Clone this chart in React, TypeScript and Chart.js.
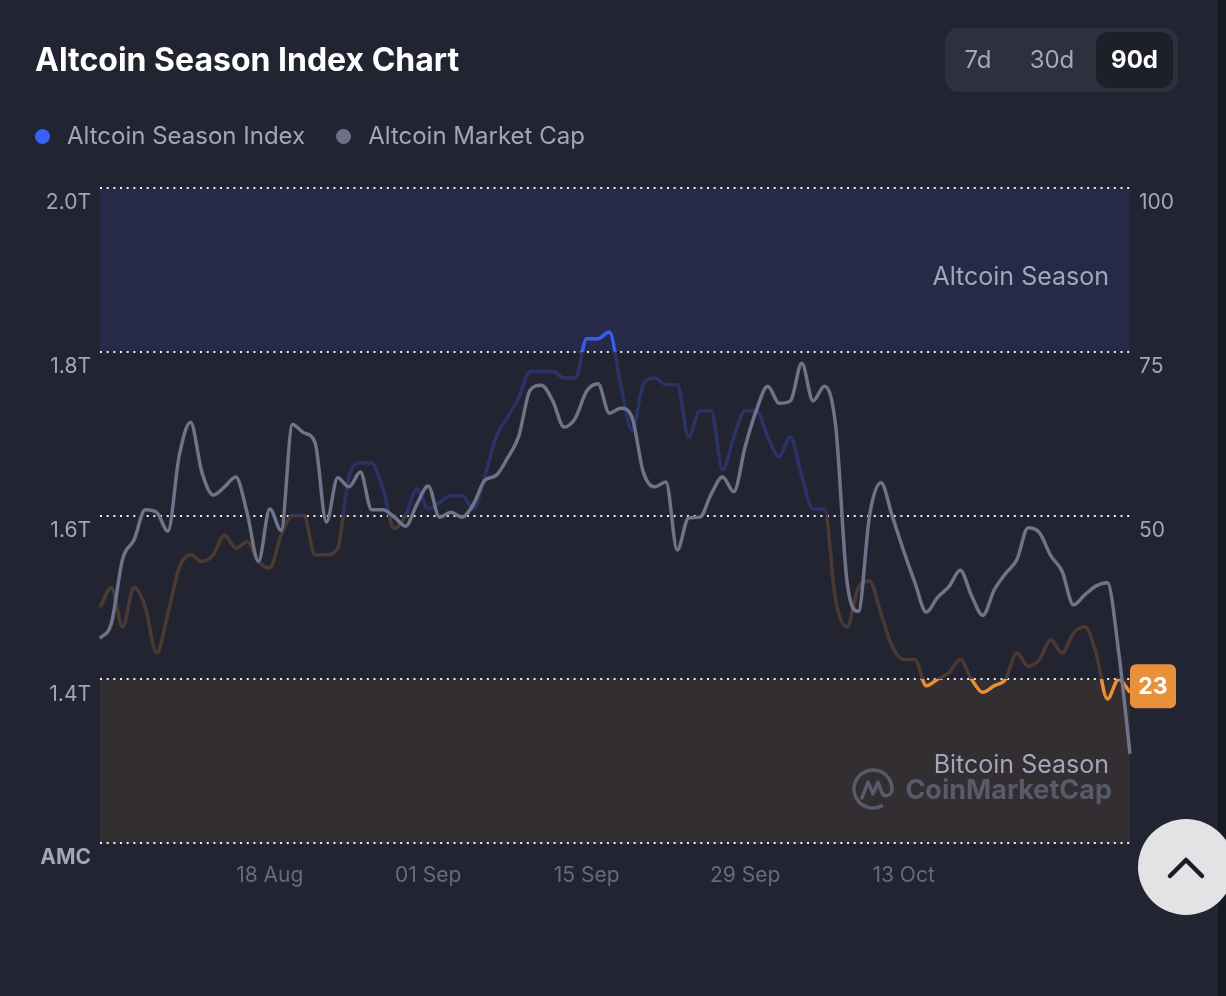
import React, { useEffect, useRef } from "react";
import { Chart, registerables } from "chart.js";

Chart.register(...registerables);

// ---------- data ----------
const categories = [
  "03 Aug","04 Aug","05 Aug","06 Aug","07 Aug","08 Aug","09 Aug","10 Aug","11 Aug","12 Aug",
  "13 Aug","14 Aug","15 Aug","16 Aug","17 Aug","18 Aug","19 Aug","20 Aug","21 Aug","22 Aug",
  "23 Aug","24 Aug","25 Aug","26 Aug","27 Aug","28 Aug","29 Aug","30 Aug","31 Aug","01 Sep",
  "02 Sep","03 Sep","04 Sep","05 Sep","06 Sep","07 Sep","08 Sep","09 Sep","10 Sep","11 Sep",
  "12 Sep","13 Sep","14 Sep","15 Sep","16 Sep","17 Sep","18 Sep","19 Sep","20 Sep","21 Sep",
  "22 Sep","23 Sep","24 Sep","25 Sep","26 Sep","27 Sep","28 Sep","29 Sep","30 Sep","01 Oct",
  "02 Oct","03 Oct","04 Oct","05 Oct","06 Oct","07 Oct","08 Oct","09 Oct","10 Oct","11 Oct",
  "12 Oct","13 Oct","14 Oct","15 Oct","16 Oct","17 Oct","18 Oct","19 Oct","20 Oct","21 Oct",
  "22 Oct","23 Oct","24 Oct","25 Oct","26 Oct","27 Oct","28 Oct","29 Oct","30 Oct","31 Oct",
  "01 Nov","02 Nov",
];

const xTickLabels = ["18 Aug", "01 Sep", "15 Sep", "29 Sep", "13 Oct"];

// Altcoin Season Index (0-100, right axis)
const altcoinSeasonIndex = [
  36, 39, 33, 39, 36, 29, 35, 42, 44, 43,
  44, 47, 45, 46, 43, 42, 47, 50, 50, 44,
  44, 45, 56, 58, 58, 54, 48, 50, 54, 51,
  52, 53, 53, 51, 56, 62, 65, 68, 72, 72,
  72, 71, 71, 77, 77, 78, 70, 63, 70, 71,
  70, 70, 62, 66, 66, 57, 62, 66, 66, 62,
  59, 62, 56, 51, 51, 37, 33, 39, 40, 35,
  30, 28, 28, 24, 25, 26, 28, 25, 23, 24,
  25, 29, 27, 28, 31, 29, 32, 33, 29, 22,
  25, 23,
];

// Altcoin Market Cap in trillions (left axis)
const altcoinMarketCap = [
  1.450, 1.468, 1.547, 1.570, 1.607, 1.604, 1.581, 1.673, 1.714, 1.653,
  1.625, 1.635, 1.647, 1.603, 1.544, 1.608, 1.582, 1.711, 1.701, 1.689,
  1.592, 1.646, 1.635, 1.653, 1.607, 1.607, 1.598, 1.587, 1.614, 1.636,
  1.598, 1.604, 1.598, 1.614, 1.643, 1.649, 1.670, 1.697, 1.753, 1.759,
  1.740, 1.708, 1.719, 1.752, 1.761, 1.725, 1.731, 1.720, 1.653, 1.635,
  1.641, 1.558, 1.597, 1.598, 1.626, 1.647, 1.629, 1.684, 1.729, 1.758,
  1.737, 1.740, 1.786, 1.740, 1.758, 1.709, 1.519, 1.483, 1.601, 1.640,
  1.599, 1.557, 1.518, 1.482, 1.500, 1.513, 1.533, 1.502, 1.478, 1.509,
  1.529, 1.546, 1.585, 1.579, 1.551, 1.532, 1.491, 1.503, 1.514, 1.518,
  1.433, 1.309,
];

const amcTickLabels = ["AMC", "1.4T", "1.6T", "1.8T", "2.0T"];
const asiTickLabels = ["ASI", "25", "50", "75", "100"];
const rangeOptions = ["7d", "30d", "90d"];
const legendItems = [
  { label: "Altcoin Season Index", color: "#3861fb" },
  { label: "Altcoin Market Cap", color: "#6c7187" },
];

// ---------- styles ----------
const FONT = "Inter, 'Noto Sans', sans-serif";
const BG = "#222531";
const TEXT_GRAY = "#a1a7bb";
const ASI_BLUE = "#3a5cf5";
const ASI_NAVY = "#2a3266";
const ASI_BROWN = "#4c3a32";
const ASI_ORANGE = "#ea8f35";
const AMC_GRAY = "#6e748a";

function asiGradient(chart: any) {
  const { ctx, chartArea, scales } = chart;
  if (!chartArea || !scales || !scales.yR) return ASI_NAVY;
  const y = scales.yR;
  const top = chartArea.top;
  const h = chartArea.bottom - chartArea.top;
  const f = (v: number) => Math.min(1, Math.max(0, (y.getPixelForValue(v) - top) / h));
  const g = ctx.createLinearGradient(0, top, 0, chartArea.bottom);
  g.addColorStop(0, ASI_BLUE);
  g.addColorStop(f(75), ASI_BLUE);
  g.addColorStop(f(75), ASI_NAVY);
  g.addColorStop(f(50), ASI_NAVY);
  g.addColorStop(f(50), ASI_BROWN);
  g.addColorStop(f(25), ASI_BROWN);
  g.addColorStop(f(25), ASI_ORANGE);
  g.addColorStop(1, ASI_ORANGE);
  return g;
}

const bandsPlugin = {
  id: "seasonBands",
  beforeDraw(chart: any) {
    const { ctx, chartArea: a, scales } = chart;
    const y = scales.yR;
    const y100 = y.getPixelForValue(100);
    const y75 = y.getPixelForValue(75);
    const y25 = y.getPixelForValue(25);
    const y0 = y.getPixelForValue(0);
    ctx.save();
    ctx.fillStyle = "#262a47";
    ctx.fillRect(a.left, y100, a.right - a.left, y75 - y100);
    ctx.fillStyle = "#332e32";
    ctx.fillRect(a.left, y25, a.right - a.left, y0 - y25);
    ctx.restore();
  },
  beforeDatasetsDraw(chart: any) {
    const { ctx, chartArea: a, scales } = chart;
    const y = scales.yR;
    const y100 = y.getPixelForValue(100);
    const y0 = y.getPixelForValue(0);
    ctx.save();
    // watermark
    const wmColor = "#575b6a";
    ctx.fillStyle = wmColor;
    ctx.strokeStyle = wmColor;
    ctx.font = `700 27px ${FONT}`;
    ctx.textAlign = "right";
    ctx.textBaseline = "middle";
    ctx.fillText("CoinMarketCap", a.right - 18, y0 - 52);
    const cx = a.right - 257;
    const cy = y0 - 54;
    ctx.lineWidth = 3.5;
    ctx.lineCap = "round";
    ctx.lineJoin = "round";
    ctx.beginPath();
    ctx.arc(cx, cy, 19, 0.35 * Math.PI, 2.05 * Math.PI, false);
    ctx.stroke();
    ctx.beginPath();
    ctx.moveTo(cx - 11, cy + 9);
    ctx.lineTo(cx - 5, cy - 7);
    ctx.lineTo(cx + 0, cy + 5);
    ctx.lineTo(cx + 5, cy - 7);
    ctx.lineTo(cx + 9, cy + 4);
    ctx.quadraticCurveTo(cx + 12, cy + 9, cx + 17, cy + 5);
    ctx.stroke();
    // band titles
    ctx.fillStyle = TEXT_GRAY;
    ctx.font = `400 25px ${FONT}`;
    ctx.textAlign = "right";
    ctx.fillText("Altcoin Season", a.right - 21, y100 + 89);
    ctx.fillText("Bitcoin Season", a.right - 21, y0 - 78);
    ctx.restore();
  },
  afterDatasetsDraw(chart: any) {
    const { ctx, chartArea: a } = chart;
    const meta = chart.getDatasetMeta(0);
    const pts = meta.data;
    if (!pts || !pts.length) return;
    const last = pts[pts.length - 1];
    const value = altcoinSeasonIndex[altcoinSeasonIndex.length - 1];
    const x = a.right;
    const cy = last.y - 6;
    const w = 46;
    const h = 44;
    ctx.save();
    ctx.fillStyle = "#e8903a";
    ctx.beginPath();
    (ctx as any).roundRect(x, cy - h / 2, w, h, 6);
    ctx.fill();
    ctx.fillStyle = "#ffffff";
    ctx.font = `700 23px ${FONT}`;
    ctx.textAlign = "center";
    ctx.textBaseline = "middle";
    ctx.fillText(String(value), x + w / 2, cy + 1);
    ctx.restore();
  },
};

function ChartCanvas() {
  const ref = useRef<HTMLCanvasElement | null>(null);
  useEffect(() => {
    if (!ref.current) return;
    const tickFont = (c: any) =>
      c.index === 0
        ? { family: FONT, size: 21, weight: "bold" }
        : { family: FONT, size: 21 };
    const chart = new Chart(ref.current, {
      type: "line",
      data: {
        labels: categories,
        datasets: [
          {
            label: "Altcoin Season Index",
            data: altcoinSeasonIndex,
            yAxisID: "yR",
            borderColor: (c: any) => asiGradient(c.chart),
            borderWidth: 3.5,
            pointRadius: 0,
            fill: false,
            cubicInterpolationMode: "monotone",
            order: 1,
          },
          {
            label: "Altcoin Market Cap",
            data: altcoinMarketCap,
            yAxisID: "yL",
            borderColor: AMC_GRAY,
            borderWidth: 3.5,
            pointRadius: 0,
            fill: false,
            cubicInterpolationMode: "monotone",
            order: 0,
          },
        ],
      },
      options: {
        animation: false,
        responsive: false,
        maintainAspectRatio: false,
        layout: { padding: { top: 188, left: 0, right: 0, bottom: 0 } },
        plugins: {
          legend: { display: false },
          tooltip: { enabled: false },
          title: { display: false },
        },
        scales: {
          x: {
            type: "category",
            offset: false,
            grid: { display: false, drawTicks: false },
            border: { display: false },
            afterFit: (s: any) => {
              s.height = 153;
            },
            ticks: {
              autoSkip: false,
              maxRotation: 0,
              minRotation: 0,
              padding: 20,
              color: "#646b80",
              font: { family: FONT, size: 21 },
              callback: (_v: any, i: number) =>
                xTickLabels.includes(categories[i]) ? categories[i] : "",
            },
          },
          yL: {
            type: "linear",
            position: "left",
            min: 1.2,
            max: 2.0,
            afterFit: (s: any) => {
              s.width = 100;
            },
            grid: {
              color: "rgba(255,255,255,0.92)",
              lineWidth: 2,
              drawTicks: false,
            },
            border: { display: false, dash: [2, 4.67] },
            ticks: {
              stepSize: 0.2,
              padding: 9,
              labelOffset: 15,
              color: TEXT_GRAY,
              font: tickFont,
              callback: (_v: any, i: number) => amcTickLabels[i],
            },
          },
          yR: {
            type: "linear",
            position: "right",
            min: 0,
            max: 100,
            afterFit: (s: any) => {
              s.width = 96;
            },
            grid: { display: false, drawTicks: false },
            border: { display: false },
            ticks: {
              stepSize: 25,
              padding: 9,
              labelOffset: 15,
              color: TEXT_GRAY,
              font: tickFont,
              callback: (_v: any, i: number) => asiTickLabels[i],
            },
          },
        },
      } as any,
      plugins: [bandsPlugin],
    });
    return () => chart.destroy();
  }, []);
  return (
    <canvas
      ref={ref}
      width={1226}
      height={996}
      style={{ position: "absolute", left: 0, top: 0, width: 1226, height: 996 }}
    />
  );
}

export default function App() {
  return (
    <div
      style={{
        position: "fixed",
        left: 0,
        top: 0,
        width: 1226,
        height: 996,
        background: BG,
        overflow: "hidden",
        fontFamily: FONT,
      }}
    >
      <ChartCanvas />
      <div
        style={{
          position: "absolute",
          left: 35,
          top: 40,
          fontSize: 32,
          lineHeight: "40px",
          fontWeight: 700,
          color: "#ffffff",
          whiteSpace: "nowrap",
        }}
      >
        Altcoin Season Index Chart
      </div>
      <div
        style={{
          position: "absolute",
          left: 35,
          top: 121,
          height: 30,
          display: "flex",
          alignItems: "center",
          whiteSpace: "nowrap",
        }}
      >
        {legendItems.map((it, i) => (
          <div
            key={it.label}
            style={{ display: "flex", alignItems: "center", marginRight: i === 0 ? 31 : 0 }}
          >
            <span
              style={{
                display: "inline-block",
                width: 15,
                height: 15,
                borderRadius: "50%",
                background: it.color,
                marginRight: 17,
              }}
            />
            <span style={{ fontSize: 24, color: TEXT_GRAY, lineHeight: "30px" }}>{it.label}</span>
          </div>
        ))}
      </div>
      <div
        style={{
          position: "absolute",
          left: 945,
          top: 28,
          width: 233,
          height: 64,
          borderRadius: 14,
          background: "#2d303e",
        }}
      >
        {rangeOptions.map((r, i) => {
          const centers = [33, 107, 189];
          const active = i === rangeOptions.length - 1;
          return (
            <div
              key={r}
              style={{
                position: "absolute",
                left: active ? 151 : centers[i] - 30,
                top: 4,
                width: active ? 77 : 60,
                height: 56,
                borderRadius: 12,
                background: active ? "#1e2029" : "transparent",
                color: active ? "#ffffff" : TEXT_GRAY,
                fontWeight: active ? 700 : 400,
                fontSize: 24,
                lineHeight: "56px",
                textAlign: "center",
              }}
            >
              {r}
            </div>
          );
        })}
      </div>
      <div
        style={{
          position: "absolute",
          left: 1218,
          top: 0,
          width: 8,
          height: 996,
          background: "#181a23",
        }}
      />
      <div
        style={{
          position: "absolute",
          left: 1138,
          top: 819,
          width: 96,
          height: 96,
          borderRadius: "50%",
          background: "#e3e3e6",
        }}
      >
        <svg width="96" height="96" style={{ position: "absolute", left: 0, top: 0 }}>
          <polyline
            points="32,57 48,41 64,57"
            fill="none"
            stroke="#1a1c25"
            strokeWidth="4.5"
            strokeLinecap="round"
            strokeLinejoin="round"
          />
        </svg>
      </div>
    </div>
  );
}
